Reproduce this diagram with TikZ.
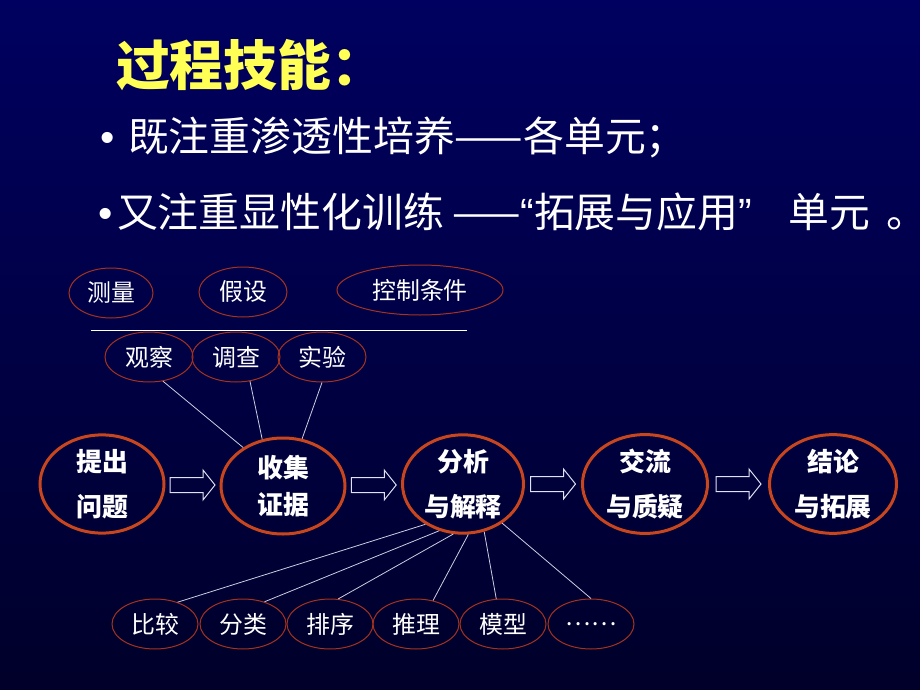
\documentclass[tikz,border=0pt]{standalone}
\usepackage{fontspec}
\newfontfamily\cjk{Noto Sans CJK SC}
\newfontfamily\latin{Liberation Sans}
\usepackage{tikz}
\usetikzlibrary{shapes.geometric, calc}

\definecolor{bgtop}{RGB}{0,0,96}
\definecolor{bgbottom}{RGB}{0,0,42}
\definecolor{ringred}{RGB}{200,70,30}
\definecolor{edgered}{RGB}{165,50,30}
\definecolor{linkgray}{RGB}{205,205,225}
\definecolor{arrowwhite}{RGB}{225,225,245}
\definecolor{titleyellow}{RGB}{255,255,85}

% hollow block arrow centred at a point
\newcommand{\hollowarrow}[1]{%
  \draw[blockarrow, shift={(#1)}] (-22.5,-7.5) -- (10.5,-7.5) -- (10.5,-15) -- (22.5,0)
    -- (10.5,15) -- (10.5,7.5) -- (-22.5,7.5) -- cycle;}
\newcommand{\dotmark}{{\latin •}}

\begin{document}
\begin{tikzpicture}[x=1bp, y=-1bp,
    bigell/.style={ellipse, draw=ringred, line width=3bp, minimum width=124bp, minimum height=96bp,
      inner sep=0pt, text=white, align=center, font=\cjk\bfseries\fontsize{26}{45}\selectfont},
    smallell/.style={ellipse, draw=edgered, line width=1bp, minimum width=86bp, minimum height=50bp,
      inner sep=0pt, text=white, font=\cjk\fontsize{24}{24}\selectfont},
    textline/.style={anchor=west, inner sep=0pt, text=white, font=\cjk\fontsize{41}{41}\selectfont},
    link/.style={draw=linkgray, line width=0.8bp},
    blockarrow/.style={draw=arrowwhite, line width=1bp}]
    % Background
    \fill[top color=bgtop, bottom color=bgbottom] (0,0) rectangle (920,690);
    \useasboundingbox (0,0) rectangle (920,690);

    % Heading
    \node[textline, text=titleyellow, font=\cjk\bfseries\fontsize{54}{54}\selectfont] (title) at (116,65) {过程技能：};
    \node[textline] (line1) at (100,137) {\dotmark\hspace{13.6bp}既注重渗透性培养——各单元；};
    \node[textline] (line2) at (98,212) {\dotmark\hspace{4.6bp}又注重显性化训练\hspace{0.2em}——{\latin “}拓展与应用{\latin ”}\hspace{0.9em}单元\hspace{0.4em}\makebox[0.3em][l]{。}};

    % Upper skills
    \node[smallell, minimum width=84bp] (measure) at (111,293) {测量};
    \node[smallell, minimum width=88bp] (hypo) at (243,292) {假设};
    \node[smallell, minimum width=166bp] (control) at (420,290) {控制条件};
    \draw[white, line width=1bp] (91,330) -- (467,330);
    \node[smallell, minimum width=88bp] (observe) at (149,357) {观察};
    \node[smallell, minimum width=88bp] (survey) at (236,357) {调查};
    \node[smallell, minimum width=88bp] (experiment) at (322,357) {实验};

    % Main steps
    \node[bigell] (ask) at (102,484) {提出\\问题};
    \node[bigell, font=\cjk\bfseries\fontsize{26}{37}\selectfont] (collect) at (283,486) {收集\\证据};
    \node[bigell, minimum width=121bp] (analyse) at (463,484) {分析\\与解释};
    \node[bigell, minimum width=125bp] (discuss) at (645,484) {交流\\与质疑};
    \node[bigell, minimum width=127bp] (conclude) at (833,484) {结论\\与拓展};
    \foreach \from/\to in {ask/collect, collect/analyse, analyse/discuss, discuss/conclude}
    \hollowarrow{$(\from.east)!0.5!(\to.west)$};

    \draw[link] (observe.-60) -- (collect.136);
    \draw[link] (survey.-60) -- (collect.114);
    \draw[link] (experiment.-90) -- (collect.68);

    % Lower skills
    \foreach \name/\txt/\x in {compare/比较/155, classify/分类/243, order/排序/330,
        infer/推理/416, model/模型/503, more/……/591}
    \node[smallell] (\name) at (\x,624) {\txt};
    \foreach \name/\a/\b in {compare/-133/44, classify/-117/46, order/-101/72,
        infer/-84/54, model/-66/105, more/-45/90}
    \draw[link] (analyse.\a) -- (\name.\b);
\end{tikzpicture}
\end{document}
